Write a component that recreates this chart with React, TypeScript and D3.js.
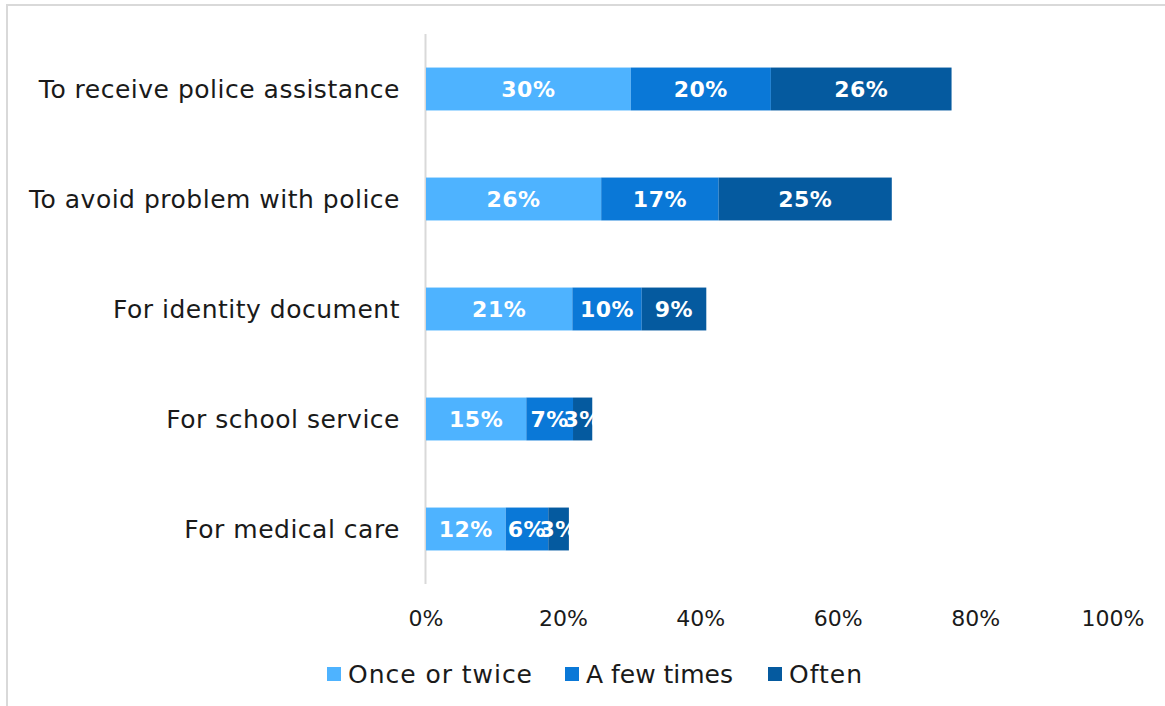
import { useRef, useEffect } from 'react';
import * as d3 from 'd3';

const categories = [
  'To receive police assistance',
  'To avoid problem with police',
  'For identity document',
  'For school service',
  'For medical care',
];
const seriesNames = ['Once or twice', 'A few times', 'Often'];
// shares in percent (labels are rounded)
const onceOrTwice = [29.8, 25.5, 21.3, 14.6, 11.6];
const aFewTimes = [20.4, 17.1, 10.1, 6.8, 6.2];
const often = [26.3, 25.2, 9.4, 2.8, 3.0];
const xTicks = [0, 20, 40, 60, 80, 100];
const colors = ['#4eb3ff', '#0a78d7', '#055a9f'];

const FONT = '"DejaVu Sans", sans-serif';

export default function App() {
  const svgRef = useRef<SVGSVGElement>(null);
  const width = 1165;
  const height = 706;

  useEffect(() => {
    if (!svgRef.current) return;
    const svg = d3.select(svgRef.current);
    svg.selectAll('*').remove();

    // chart frame
    svg.append('rect')
      .attr('x', 7).attr('y', 5)
      .attr('width', width + 20).attr('height', height + 20)
      .attr('fill', 'white')
      .attr('stroke', '#d9d9d9')
      .attr('stroke-width', 2);

    const x = d3.scaleLinear().domain([0, 100]).range([426, 1113]);
    const y = d3.scaleBand().domain(categories).range([34, 584]).paddingInner(0.61).paddingOuter(0.305);

    const rows = categories.map((c, i) => ({ cat: c, vals: [onceOrTwice[i], aFewTimes[i], often[i]] }));

    // axis line
    svg.append('line')
      .attr('x1', x(0) - 0.5).attr('x2', x(0) - 0.5)
      .attr('y1', 34).attr('y2', 584)
      .attr('stroke', '#d9d9d9').attr('stroke-width', 2);

    rows.forEach(r => {
      let acc = 0;
      r.vals.forEach((v, j) => {
        const x0 = x(acc);
        const x1 = x(acc + v);
        acc += v;
        svg.append('rect')
          .attr('x', x0).attr('y', y(r.cat)!)
          .attr('width', x1 - x0).attr('height', y.bandwidth())
          .attr('fill', colors[j]);
        svg.append('text')
          .attr('x', (x0 + x1) / 2)
          .attr('y', y(r.cat)! + y.bandwidth() / 2)
          .attr('dy', '0.36em')
          .attr('text-anchor', 'middle')
          .attr('fill', 'white')
          .attr('font-family', FONT)
          .attr('font-weight', 'bold')
          .attr('font-size', 22)
          .attr('letter-spacing', 0.5)
          .text(`${Math.round(v)}%`);
      });
    });

    // category labels
    svg.selectAll('text.cat')
      .data(categories)
      .join('text')
      .attr('class', 'cat')
      .attr('x', 400)
      .attr('y', d => y(d)! + y.bandwidth() / 2)
      .attr('dy', '0.36em')
      .attr('text-anchor', 'end')
      .attr('fill', '#1a1a1a')
      .attr('font-family', FONT)
      .attr('font-size', 25)
      .attr('letter-spacing', 0.5)
      .text(d => d);

    // x tick labels
    svg.selectAll('text.tick')
      .data(xTicks)
      .join('text')
      .attr('class', 'tick')
      .attr('x', d => x(d))
      .attr('y', 618)
      .attr('dy', '0.36em')
      .attr('text-anchor', 'middle')
      .attr('fill', '#1a1a1a')
      .attr('font-family', FONT)
      .attr('font-size', 22)
      .text(d => `${d}%`);

    // legend
    const legendX = [327, 565, 768];
    const legendW = [184, 147, 73];
    seriesNames.forEach((name, i) => {
      svg.append('rect')
        .attr('x', legendX[i]).attr('y', 667)
        .attr('width', 14).attr('height', 14)
        .attr('fill', colors[i]);
      svg.append('text')
        .attr('x', legendX[i] + 21)
        .attr('y', 674)
        .attr('dy', '0.36em')
        .attr('fill', '#1a1a1a')
        .attr('font-family', FONT)
        .attr('font-size', 25)
        .attr('textLength', legendW[i])
        .attr('lengthAdjust', 'spacing')
        .text(name);
    });
  }, []);

  return (
    <svg
      ref={svgRef}
      width={width}
      height={height}
      style={{ position: 'absolute', left: 0, top: 0 }}
    />
  );
}
